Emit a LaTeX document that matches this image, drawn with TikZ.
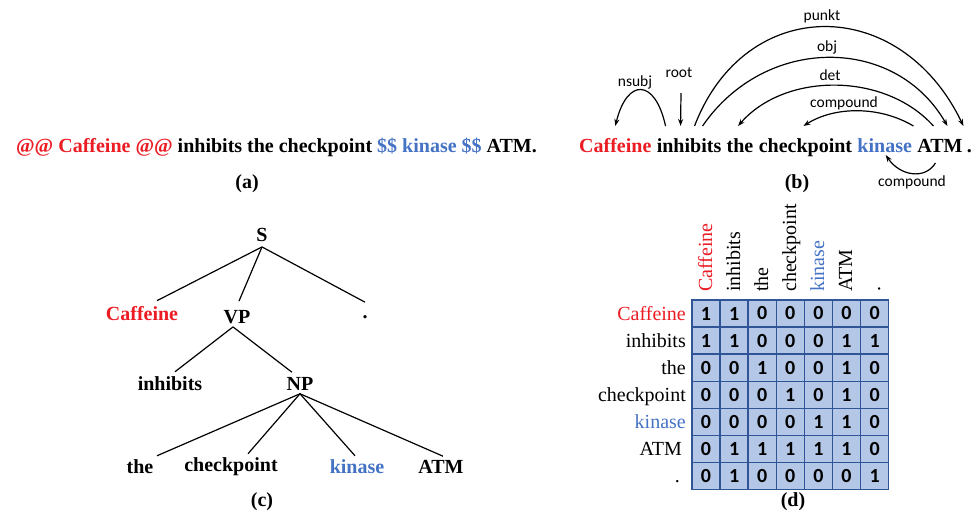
\documentclass[tikz,border=0pt]{standalone}
\usepackage{fontspec}
\setmainfont{Liberation Serif}
\newfontfamily\calib{Carlito}
\usetikzlibrary{arrows.meta}
\definecolor{myred}{RGB}{235,28,36}
\definecolor{myblue}{RGB}{68,114,196}
\definecolor{cellfill}{RGB}{180,199,231}
\definecolor{cellline}{RGB}{47,85,151}
\tikzset{
  word/.style={font=\fontsize{20}{24}\selectfont\bfseries, inner sep=0pt, anchor=base west},
  tword/.style={font=\fontsize{20}{24}\selectfont\bfseries, inner sep=1pt},
  caplab/.style={font=\fontsize{20}{24}\selectfont\bfseries, inner sep=0pt},
  rel/.style={font=\calib\fontsize{15.5}{18}\selectfont, inner sep=0pt},
  arc/.style={line width=1.2pt, -{Stealth[length=7pt,width=5pt]}},
  branch/.style={line width=1.2pt},
  cell/.style={draw=cellline, fill=cellfill, line width=1.4pt, minimum width=28.1pt, minimum height=27.1pt, inner sep=0pt, font=\calib\fontsize{20}{24}\selectfont\bfseries},
  rowlab/.style={font=\fontsize{20}{24}\selectfont, inner sep=0pt, anchor=base east},
  collab/.style={font=\fontsize{20}{24}\selectfont, inner sep=0pt, anchor=base west, rotate=90}
}
\begin{document}
\begin{tikzpicture}[x=1pt,y=-1pt]
\useasboundingbox (0,0) rectangle (973,512);
% (a)
\node[font=\fontsize{20}{24}\selectfont\bfseries, inner sep=0pt, anchor=base] (sa) at (276.5,152)
  {{\color{myred}@@ Caffeine @@} inhibits the checkpoint {\color{myblue}\$\$ kinase \$\$} ATM.};
\node[caplab, anchor=base] (capa) at (247,188) {(a)};
% (b)
\node[word, text=myred] (w1) at (579,152) {Caffeine};
\node[word] (w2) at ([xshift=5pt]w1.base east) {inhibits};
\node[word] (w3) at ([xshift=5pt]w2.base east) {the};
\node[word] (w4) at ([xshift=5pt]w3.base east) {checkpoint};
\node[word, text=myblue] (w5) at ([xshift=5pt]w4.base east) {kinase};
\node[word] (w6) at ([xshift=5pt]w5.base east) {ATM};
\node[word] (w7) at ([xshift=4pt]w6.base east) {.};
\node[caplab, anchor=base] (capb) at (797,188) {(b)};
\coordinate (rootTop) at (681,93);
\draw[arc] ([xshift=-23.5pt,yshift=26pt]w2.base) .. controls (655,78) and (627,78) .. ([yshift=26pt]w1.base);
\draw[arc] (rootTop) -- ([xshift=-8.5pt,yshift=26pt]w2.base);
\draw[arc] ([xshift=5.5pt,yshift=26pt]w2.base) .. controls (745,-6) and (900,-6) .. ([xshift=-6pt,yshift=26pt]w7.base);
\draw[arc] ([xshift=13.5pt,yshift=26pt]w2.base) .. controls (765,35) and (895,35) .. ([xshift=7.5pt,yshift=26pt]w6.base);
\draw[arc] ([xshift=-6.5pt,yshift=26pt]w6.base) .. controls (885,72) and (785,72) .. ([xshift=-2pt,yshift=26pt]w3.base);
\draw[arc] ([xshift=-26.5pt,yshift=26pt]w6.base) .. controls (880,106) and (835,106) .. ([xshift=-2pt,yshift=26pt]w4.base);
\draw[arc] ([xshift=-4.5pt,yshift=-11pt]w6.base) .. controls (925,180) and (900,176) .. ([xshift=1pt,yshift=-3pt]w5.base);
\node[rel] (l1) at (635,82) {nsubj};
\node[rel] (l2) at (679,73) {root};
\node[rel] (l3) at (822,16) {punkt};
\node[rel] (l4) at (827,47) {obj};
\node[rel] (l5) at (830,75) {det};
\node[rel] (l6) at (844,103) {compound};
\node[rel] (l7) at (912,182) {compound};
% (c)
\node[tword] (S) at (262,235) {S};
\node[tword, text=myred] (caf) at (142,314) {Caffeine};
\node[tword] (VP) at (237,317) {VP};
\node[tword] (dot) at (365,317) {.};
\node[tword] (inh) at (170,384) {inhibits};
\node[tword] (NP) at (300,384) {NP};
\node[tword] (the) at (140,467) {the};
\node[tword] (chk) at (231,467) {checkpoint};
\node[tword, text=myblue] (kin) at (357,467) {kinase};
\node[tword] (atm) at (441,467) {ATM};
\node[caplab, anchor=base] (capc) at (262,506) {(c)};
\draw[branch] ([yshift=-4pt]S.south) -- ([xshift=15pt,yshift=5pt]caf.north);
\draw[branch] ([yshift=-4pt]S.south) -- ([xshift=2pt,yshift=8pt]VP.north);
\draw[branch] ([yshift=-4pt]S.south) -- ([yshift=12pt]dot.north);
\draw[branch] ([xshift=-4pt,yshift=-2pt]VP.south) -- ([xshift=5pt,yshift=4pt]inh.north);
\draw[branch] ([xshift=-4pt,yshift=-2pt]VP.south) -- ([xshift=-8pt,yshift=4pt]NP.north);
\draw[branch] ([yshift=-2pt]NP.south) -- ([xshift=17pt,yshift=3pt]the.north);
\draw[branch] ([yshift=-2pt]NP.south) -- ([xshift=17pt,yshift=3pt]chk.north);
\draw[branch] ([yshift=-2pt]NP.south) -- ([xshift=-2pt,yshift=3pt]kin.north);
\draw[branch] ([yshift=-2pt]NP.south) -- ([xshift=2pt,yshift=3pt]atm.north);
% (d)
\foreach \rr/\vals in {0/{1,1,0,0,0,0,0},1/{1,1,0,0,0,1,1},2/{0,0,1,0,0,1,0},3/{0,0,0,1,0,1,0},4/{0,0,0,0,1,1,0},5/{0,1,1,1,1,1,0},6/{0,1,0,0,0,0,1}}{
  \foreach \val [count=\cc from 0] in \vals {
    \node[cell] (m\rr\cc) at (706+28.1*\cc, 313.5+27.1*\rr) {\val};
  }
}
\node[rowlab, text=myred] (r0) at (686,320) {Caffeine};
\node[rowlab] (r1) at (686,347) {inhibits};
\node[rowlab] (r2) at (686,374) {the};
\node[rowlab] (r3) at (686,401) {checkpoint};
\node[rowlab, text=myblue] (r4) at (686,428) {kinase};
\node[rowlab] (r5) at (682,455) {ATM};
\node[rowlab] (r6) at (680,482) {.};
\node[collab, text=myred] (c0) at (712,292) {Caffeine};
\node[collab] (c1) at (740,292) {inhibits};
\node[collab] (c2) at (768,292) {the};
\node[collab] (c3) at (796,292) {checkpoint};
\node[collab, text=myblue] (c4) at (824,292) {kinase};
\node[collab] (c5) at (852,292) {ATM};
\node[collab] (c6) at (880,292) {.};
\node[caplab, anchor=base] (capd) at (793,506) {(d)};
\end{tikzpicture}
\end{document}
